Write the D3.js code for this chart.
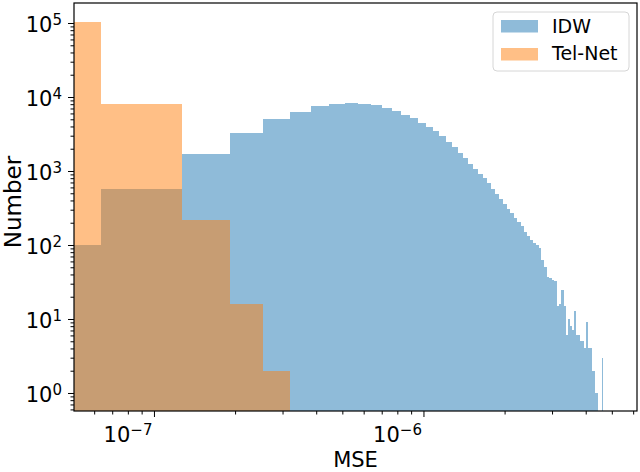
<!DOCTYPE html>
<html>
<head>
<meta charset="utf-8">
<script src="https://cdn.jsdelivr.net/npm/d3@7"></script>
<style>
  body { margin: 0; background: #fff; }
  text { font-family: "DejaVu Sans", sans-serif; fill: #000; }
</style>
</head>
<body>
<div id="chart"></div>
<script>
// histogram data: both series share equal-width bins that start at 0
var binStep = 6.37e-8;
var seriesNames = ["IDW", "Tel-Net"];
var idwCounts = [
  100, 580, 1680, 3230, 5100, 6330, 7590, 8170, 8230, 8100,
  7740, 7200, 6400, 5800, 5150, 4500, 3950, 3450, 2950, 2500,
  2100, 1770, 1480, 1250, 1050, 920, 800, 690, 580, 490,
  420, 360, 310, 272, 235, 205, 178, 152, 131, 118,
  108, 100, 92, 63, 50, 37, 36, 34, 33, 15,
  16, 25, 15, 6, 10, 8, 7, 13, 6, 6,
  5, 5, 4, 9, 4, 4, 2, 2, 1, 1,
  0, 0, 3
];
var telCounts = [104000, 8170, 221, 16, 2];
var xMajorTicks = [1e-7, 1e-6];
var yMajorTicks = [1, 10, 100, 1000, 10000, 100000];
var xLabel = "MSE";
var yLabel = "Number";

var W = 640, H = 472;
var plot = {left: 74, right: 637, top: 3, bottom: 411};

var svg = d3.select("#chart").append("svg")
    .attr("width", W)
    .attr("height", H);

// log scales (axis limits as matplotlib autoscaled them)
var x = d3.scaleLog()
    .domain([5.05e-8, 6.2e-6])
    .range([plot.left, plot.right]);
var y = d3.scaleLog()
    .domain([0.571, 1.864e5])
    .range([plot.bottom, plot.top]);

var colors = ["#1f77b4", "#ff7f0e"];

function bars(counts, color) {
  var data = counts.map(function(c, i) {
    return {lo: i * binStep, hi: (i + 1) * binStep, n: c};
  }).filter(function(d) { return d.n > 0; });
  svg.append("g").selectAll("rect")
      .data(data)
      .enter().append("rect")
      .attr("x", function(d) { return x(Math.max(d.lo, x.domain()[0])); })
      .attr("width", function(d) { return x(d.hi) - x(Math.max(d.lo, x.domain()[0])); })
      .attr("y", function(d) { return y(d.n); })
      .attr("height", function(d) { return plot.bottom - y(d.n); })
      .attr("fill", color)
      .attr("fill-opacity", 0.5)
      .attr("shape-rendering", "crispEdges");
}
bars(idwCounts, colors[0]);
bars(telCounts, colors[1]);

// minor ticks: 2..9 times each power of ten inside the domain
function minors(scale) {
  var dom = scale.domain(), out = [];
  var e0 = Math.floor(Math.log10(dom[0])), e1 = Math.ceil(Math.log10(dom[1]));
  for (var e = e0; e <= e1; e++) {
    for (var m = 2; m <= 9; m++) {
      var v = m * Math.pow(10, e);
      if (v >= dom[0] && v <= dom[1]) out.push(v);
    }
  }
  return out;
}

function supLabel(sel, v) {
  var e = Math.round(Math.log10(v));
  sel.text("");
  sel.append("tspan").text("10");
  sel.append("tspan")
      .attr("font-size", "15px")
      .attr("dy", "-7")
      .text(String(e).replace("-", "\u2212"));
}

// x axis
var gx = svg.append("g").attr("transform", "translate(0," + plot.bottom + ")");
gx.append("g").call(d3.axisBottom(x).tickValues(minors(x)).tickSize(3.5).tickFormat(""));
var gxMaj = gx.append("g").call(d3.axisBottom(x).tickValues(xMajorTicks).tickSize(6));
gxMaj.selectAll(".tick text")
    .attr("text-anchor", "end")
    .attr("x", -2)
    .attr("y", 31)
    .attr("dy", null)
    .attr("font-size", "21px")
    .each(function(d) { supLabel(d3.select(this), d); });

// y axis
var gy = svg.append("g").attr("transform", "translate(" + plot.left + ",0)");
gy.append("g").call(d3.axisLeft(y).tickValues(minors(y)).tickSize(3.5).tickFormat(""));
var gyMaj = gy.append("g").call(d3.axisLeft(y).tickValues(yMajorTicks).tickSize(6));
gyMaj.selectAll(".tick text")
    .attr("x", -12)
    .attr("dy", "0.42em")
    .attr("font-size", "21px")
    .each(function(d) { supLabel(d3.select(this), d); });

svg.selectAll(".domain").remove();
svg.selectAll(".tick line").attr("stroke", "#000").attr("stroke-width", 1);

// frame
svg.append("rect")
    .attr("x", plot.left)
    .attr("y", plot.top)
    .attr("width", plot.right - plot.left)
    .attr("height", plot.bottom - plot.top)
    .attr("fill", "none")
    .attr("stroke", "#000")
    .attr("stroke-width", 1.2);

// axis titles
svg.append("text")
    .attr("x", (plot.left + plot.right) / 2)
    .attr("y", 467)
    .attr("text-anchor", "middle")
    .attr("font-size", "21px")
    .text(xLabel);
svg.append("text")
    .attr("transform", "translate(21," + ((plot.top + plot.bottom) / 2 - 5) + ") rotate(-90)")
    .attr("text-anchor", "middle")
    .attr("font-size", "23px")
    .text(yLabel);

// legend
var lg = svg.append("g").attr("transform", "translate(493,12)");
lg.append("rect")
    .attr("width", 136).attr("height", 59)
    .attr("rx", 4)
    .attr("fill", "#fff").attr("fill-opacity", 0.8)
    .attr("stroke", "#d6d6d6");
seriesNames.forEach(function(name, i) {
  lg.append("rect")
      .attr("x", 8).attr("y", 8 + i * 28)
      .attr("width", 37).attr("height", 12.5)
      .attr("fill", colors[i]).attr("fill-opacity", 0.5);
  lg.append("text")
      .attr("x", 59).attr("y", 21 + i * 27)
      .attr("font-size", "19px")
      .text(name);
});
</script>
</body>
</html>
